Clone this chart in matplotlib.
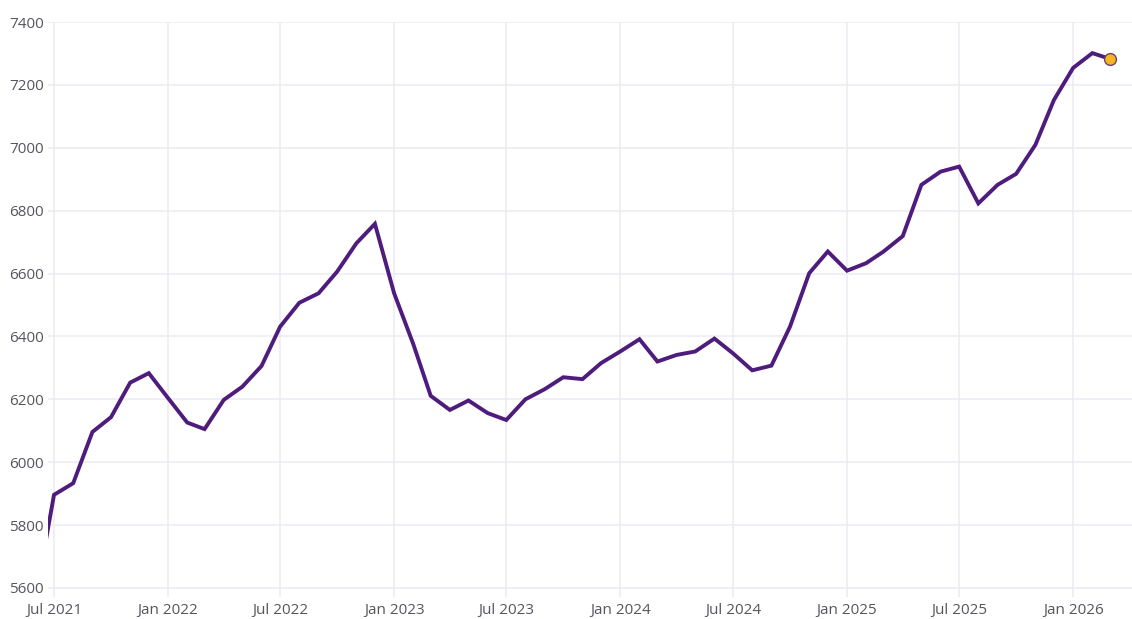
import pandas as pd
import matplotlib
matplotlib.use("Agg")
import matplotlib.pyplot as plt
import matplotlib.dates as mdates

# monthly values, Jun 2021 .. Mar 2026
start_month = "2021-06-01"
values = [
    5565, 5896, 5933, 6096, 6143, 6253, 6283,                     # 2021
    6204, 6126, 6105, 6198, 6240, 6306, 6431, 6507, 6537, 6606, 6696, 6758,  # 2022
    6537, 6375, 6211, 6166, 6196, 6156, 6134, 6200, 6232, 6270, 6264, 6315,  # 2023
    6352, 6391, 6320, 6341, 6352, 6393, 6346, 6292, 6307, 6431, 6601, 6670,  # 2024
    6609, 6633, 6670, 6719, 6882, 6924, 6940, 6823, 6882, 6917, 7009, 7152,  # 2025
    7254, 7301, 7283,                                             # 2026
]
tick_dates = ["2021-07-01", "2022-01-01", "2022-07-01", "2023-01-01", "2023-07-01",
              "2024-01-01", "2024-07-01", "2025-01-01", "2025-07-01", "2026-01-01"]
y_ticks = [5600, 5800, 6000, 6200, 6400, 6600, 6800, 7000, 7200, 7400]

dates = pd.date_range(start_month, periods=len(values), freq="MS")

plt.rcParams["font.family"] = ["Open Sans", "DejaVu Sans"]

W, H = 1132, 619
fig = plt.figure(figsize=(W / 100, H / 100), dpi=100)
ax = fig.add_axes([47.5 / W, 1 - 597 / H, 1 - 47.5 / W, (597 - 22) / H])

line_color = "#4e1c7c"
ax.plot(dates, values, color=line_color, linewidth=2.8, solid_joinstyle="miter", zorder=3)
ax.plot(dates[-1:], values[-1:], "o", markersize=8.5, markerfacecolor="#f8b61c",
        markeredgecolor="#6e3f78", markeredgewidth=1.0, zorder=4, clip_on=False)

ax.set_xlim(pd.Timestamp("2021-06-20 12:00"), pd.Timestamp("2026-04-06"))
ax.set_ylim(5571, 7400)

ax.set_xticks(pd.to_datetime(tick_dates))
ax.xaxis.set_major_formatter(mdates.DateFormatter("%b %Y"))
ax.set_yticks(y_ticks)

ax.grid(True, color="#eeeaf4", linewidth=1.1)
ax.set_axisbelow(True)
for s in ax.spines.values():
    s.set_visible(False)
ax.tick_params(axis="both", length=0, colors="#555560", labelsize=11)
ax.tick_params(axis="y", pad=2.5)
ax.tick_params(axis="x", pad=4.5)

fig.savefig("out.png", dpi=100)
